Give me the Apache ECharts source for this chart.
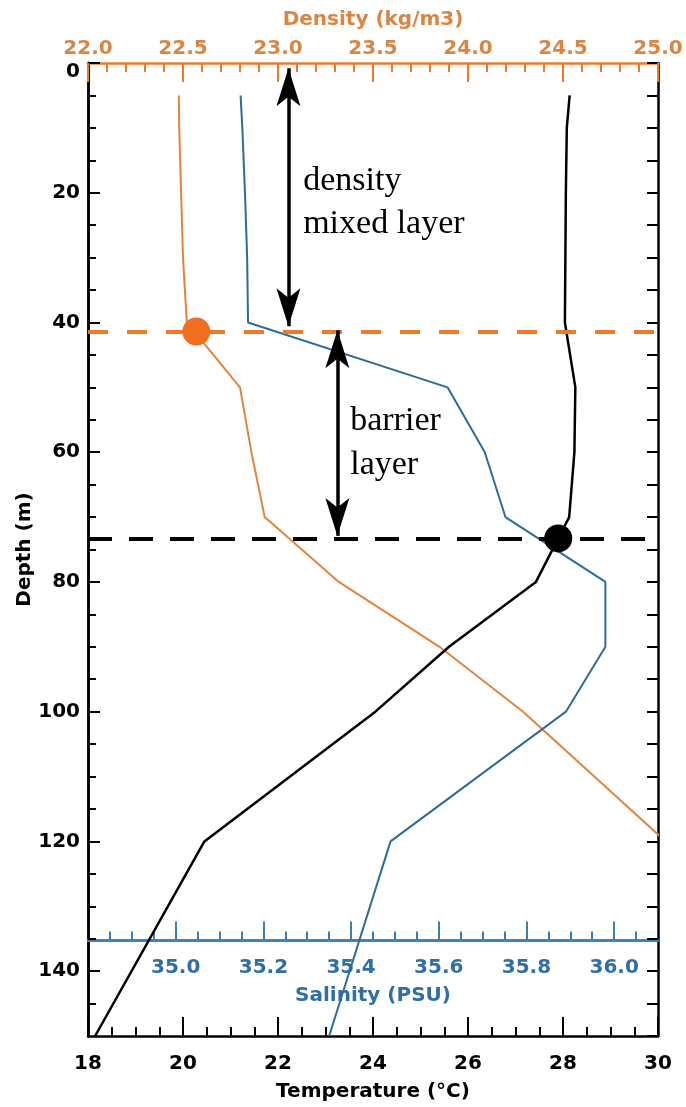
<!DOCTYPE html>
<html><head><meta charset="utf-8">
<script src="https://cdn.jsdelivr.net/npm/echarts@6/dist/echarts.min.js"></script>
<style>html,body{margin:0;padding:0;background:#fff}#c{width:686px;height:1107px}</style>
</head><body><div id="c"></div>
<script>
// ---- data ----
const depthLevels   = [5, 10, 20, 30, 40, 50, 60, 70, 80, 90, 100, 120, 150];
const temperature   = [28.14, 28.08, 28.06, 28.05, 28.04, 28.26, 28.24, 28.13, 27.43, 25.60, 24.05, 20.45, 18.15];
const salinity      = [35.148, 35.152, 35.158, 35.163, 35.165, 35.62, 35.705, 35.752, 35.98, 35.98, 35.89, 35.49, 35.35];
const densityDepths = [5, 10, 20, 30, 40, 50, 60, 70, 80, 90, 100, 120];
const density       = [22.478, 22.48, 22.49, 22.50, 22.52, 22.80, 22.86, 22.93, 23.32, 23.85, 24.29, 25.04];

const mixedLayerDepth = 41.4, mixedLayerDensity = 22.57;
const barrierBaseDepth = 73.3, barrierBaseTemp = 27.90;
const salinityAxisDepth = 135;

const depthTicks    = [0, 20, 40, 60, 80, 100, 120, 140];
const tempTicks     = [18, 20, 22, 24, 26, 28, 30];
const densityTicks  = [22.0, 22.5, 23.0, 23.5, 24.0, 24.5, 25.0];
const salinityTicks = [35.0, 35.2, 35.4, 35.6, 35.8, 36.0];

const arrowMixed   = {temp: 22.22, from: 0.8,  to: 40.6};
const arrowBarrier = {temp: 23.25, from: 41.2, to: 72.9};
const labelLines = [
  {text: 'density',     temp: 22.53, depth: 18.2},
  {text: 'mixed layer', temp: 22.53, depth: 24.9},
  {text: 'barrier',     temp: 23.52, depth: 55.2},
  {text: 'layer',       temp: 23.52, depth: 62.0}
];

// ---- layout & styles ----
const W = 686, H = 1107;
const G = {left: 88, right: 28, top: 63, bottom: 69};
const plotH = H - G.top - G.bottom;
const depthMin = 0, depthMax = 150;

const FONT = 'DejaVu Sans';
const ORANGE_AXIS = '#F07A2A', ORANGE_TEXT = '#D98644', ORANGE_LINE = '#E4843C', ORANGE_DOT = '#F07020';
const BLUE_LINE = '#2C6C9C', BLUE_TEXT = '#2F6EA6', BLUE_AXIS = '#3B7DB6';

const minorSal = [];
for (let k = 1; k < 26; k++) { const v = Math.round((34.8 + k * 0.05) * 100) / 100; if (!salinityTicks.some(s => Math.abs(s - v) < 1e-6)) minorSal.push(v); }
const minorDepth = [];
for (let v = 5; v < 150; v += 5) if (v % 20) minorDepth.push(v);

const chart = echarts.init(document.getElementById('c'), null, {renderer: 'canvas'});
const txt = (c) => ({color: c, fontFamily: FONT, fontSize: 20, fontWeight: 'bold'});

const salGrid = {left: G.left, right: G.right, top: G.top,
  bottom: G.bottom + plotH * (depthMax - salinityAxisDepth) / (depthMax - depthMin)};

const option = {
  backgroundColor: '#fff',
  animation: false,
  grid: [G, salGrid],
  xAxis: [
    { gridIndex: 0, type: 'value', position: 'bottom', min: tempTicks[0], max: tempTicks[tempTicks.length - 1], interval: 2,
      axisLine: {onZero: false, lineStyle: {color: '#000', width: 2.5}},
      axisTick: {inside: true, length: 19, lineStyle: {color: '#000', width: 2}},
      minorTick: {show: true, splitNumber: 4, length: 9, lineStyle: {color: '#000', width: 2}},
      splitLine: {show: false}, minorSplitLine: {show: false},
      axisLabel: Object.assign({margin: 18, formatter: v => String(v)}, txt('#000')),
      name: 'Temperature (°C)', nameLocation: 'middle', nameGap: 46, nameMoveOverlap: false, nameTextStyle: txt('#000') },
    { gridIndex: 0, type: 'value', position: 'top', min: densityTicks[0], max: densityTicks[densityTicks.length - 1], interval: 0.5,
      axisLine: {onZero: false, lineStyle: {color: ORANGE_AXIS, width: 2.5}},
      axisTick: {inside: true, length: 19, lineStyle: {color: ORANGE_AXIS, width: 2}},
      minorTick: {show: true, splitNumber: 5, length: 9, lineStyle: {color: ORANGE_AXIS, width: 2}},
      splitLine: {show: false},
      axisLabel: Object.assign({margin: 4, formatter: v => v.toFixed(1)}, txt(ORANGE_TEXT)),
      name: 'Density (kg/m3)', nameLocation: 'middle', nameGap: 33, nameMoveOverlap: false, nameTextStyle: txt(ORANGE_TEXT) },
    { gridIndex: 1, type: 'value', position: 'bottom', min: 34.8, max: 36.1, interval: 0.2,
      axisLine: {onZero: false, lineStyle: {color: BLUE_AXIS, width: 2.5}},
      axisTick: {inside: true, length: 19, customValues: salinityTicks, lineStyle: {color: BLUE_AXIS, width: 2}},
      splitLine: {show: false},
      axisLabel: Object.assign({margin: 17, customValues: salinityTicks, formatter: v => v.toFixed(1)}, txt(BLUE_TEXT)),
      name: 'Salinity (PSU)', nameLocation: 'middle', nameGap: 45, nameMoveOverlap: false, nameTextStyle: txt(BLUE_TEXT) },
    { gridIndex: 1, type: 'value', position: 'bottom', min: 34.8, max: 36.1,
      axisLine: {onZero: false, lineStyle: {color: BLUE_AXIS, width: 2.5}},
      axisTick: {inside: true, length: 9, customValues: minorSal, lineStyle: {color: BLUE_AXIS, width: 2}},
      splitLine: {show: false}, axisLabel: {show: false} },
    { gridIndex: 0, type: 'value', show: false, min: 34.8, max: 36.1,
      axisLine: {onZero: false}, splitLine: {show: false} }
  ],
  yAxis: [
    { gridIndex: 0, type: 'value', position: 'left', inverse: true, min: depthMin, max: depthMax, interval: 20,
      axisLine: {onZero: false, lineStyle: {color: '#000', width: 2.5}},
      axisTick: {inside: true, length: 12, customValues: depthTicks, lineStyle: {color: '#000', width: 2}},
      splitLine: {show: false},
      axisLabel: Object.assign({margin: 8, customValues: depthTicks,
        formatter: v => v === 0 ? '{z|0}' : String(v),
        rich: {z: Object.assign({padding: [18, 0, 0, 0]}, txt('#000'))}}, txt('#000')),
      name: 'Depth (m)', nameLocation: 'middle', nameGap: 53, nameRotate: 90, nameMoveOverlap: false, nameTextStyle: txt('#000') },
    { gridIndex: 0, type: 'value', position: 'left', inverse: true, min: depthMin, max: depthMax,
      axisLine: {onZero: false, lineStyle: {color: '#000', width: 2.5}},
      axisTick: {inside: true, length: 8, customValues: minorDepth, lineStyle: {color: '#000', width: 2}},
      splitLine: {show: false}, axisLabel: {show: false} },
    { gridIndex: 0, type: 'value', position: 'right', inverse: true, min: depthMin, max: depthMax, interval: 5,
      axisLine: {onZero: false, lineStyle: {color: '#000', width: 2.5}},
      axisTick: {inside: true, length: 11, lineStyle: {color: '#000', width: 2}},
      splitLine: {show: false}, axisLabel: {show: false} },
    { gridIndex: 1, type: 'value', show: false, inverse: true, min: depthMin, max: salinityAxisDepth,
      axisLine: {onZero: false}, splitLine: {show: false} }
  ],
  series: [
    { type: 'line', name: 'Density', xAxisIndex: 1, yAxisIndex: 0, z: 3,
      data: densityDepths.map((d, i) => [density[i], d]), showSymbol: false,
      lineStyle: {color: ORANGE_LINE, width: 2},
      markLine: {silent: true, symbol: 'none', label: {show: false}, animation: false,
        lineStyle: {color: ORANGE_AXIS, width: 4, type: [20, 19]},
        data: [{yAxis: mixedLayerDepth}]} },
    { type: 'line', name: 'Salinity', xAxisIndex: 4, yAxisIndex: 0, z: 4,
      data: depthLevels.map((d, i) => [salinity[i], d]), showSymbol: false,
      lineStyle: {color: BLUE_LINE, width: 2} },
    { type: 'line', name: 'Temperature', xAxisIndex: 0, yAxisIndex: 0, z: 4,
      data: depthLevels.map((d, i) => [temperature[i], d]), showSymbol: false,
      lineStyle: {color: '#000', width: 2.5},
      markLine: {silent: true, symbol: 'none', label: {show: false}, animation: false,
        lineStyle: {color: '#000', width: 4, type: [24, 17]},
        data: [{yAxis: barrierBaseDepth}]} },
    { type: 'line', name: 'arrows', xAxisIndex: 0, yAxisIndex: 0, data: [], z: 5,
      markLine: {silent: true, animation: false, symbol: ['arrow', 'arrow'], symbolSize: [18, 38],
        label: {show: false}, lineStyle: {color: '#000', width: 3.5, type: 'solid'},
        data: [arrowMixed, arrowBarrier].map(a => [
          {coord: [a.temp, a.from]}, {coord: [a.temp, a.to]}])} },
    { type: 'scatter', name: 'mld', xAxisIndex: 1, yAxisIndex: 0, z: 6, symbolSize: 28,
      data: [[mixedLayerDensity, mixedLayerDepth]], itemStyle: {color: ORANGE_DOT, opacity: 1} },
    { type: 'scatter', name: 'bld', xAxisIndex: 0, yAxisIndex: 0, z: 6, symbolSize: 28,
      data: [[barrierBaseTemp, barrierBaseDepth]], itemStyle: {color: '#000', opacity: 1} },
    { type: 'scatter', name: 'notes', xAxisIndex: 0, yAxisIndex: 0, z: 6, symbolSize: 0, silent: true,
      data: labelLines.map(l => ({value: [l.temp, l.depth], name: l.text})),
      itemStyle: {color: '#000', opacity: 1},
      label: {show: true, position: 'right', distance: 0, align: 'left', verticalAlign: 'middle',
        formatter: p => p.name, color: '#000', fontFamily: 'Liberation Serif', fontSize: 34} }
  ]
};
chart.setOption(option);
</script></body></html>
